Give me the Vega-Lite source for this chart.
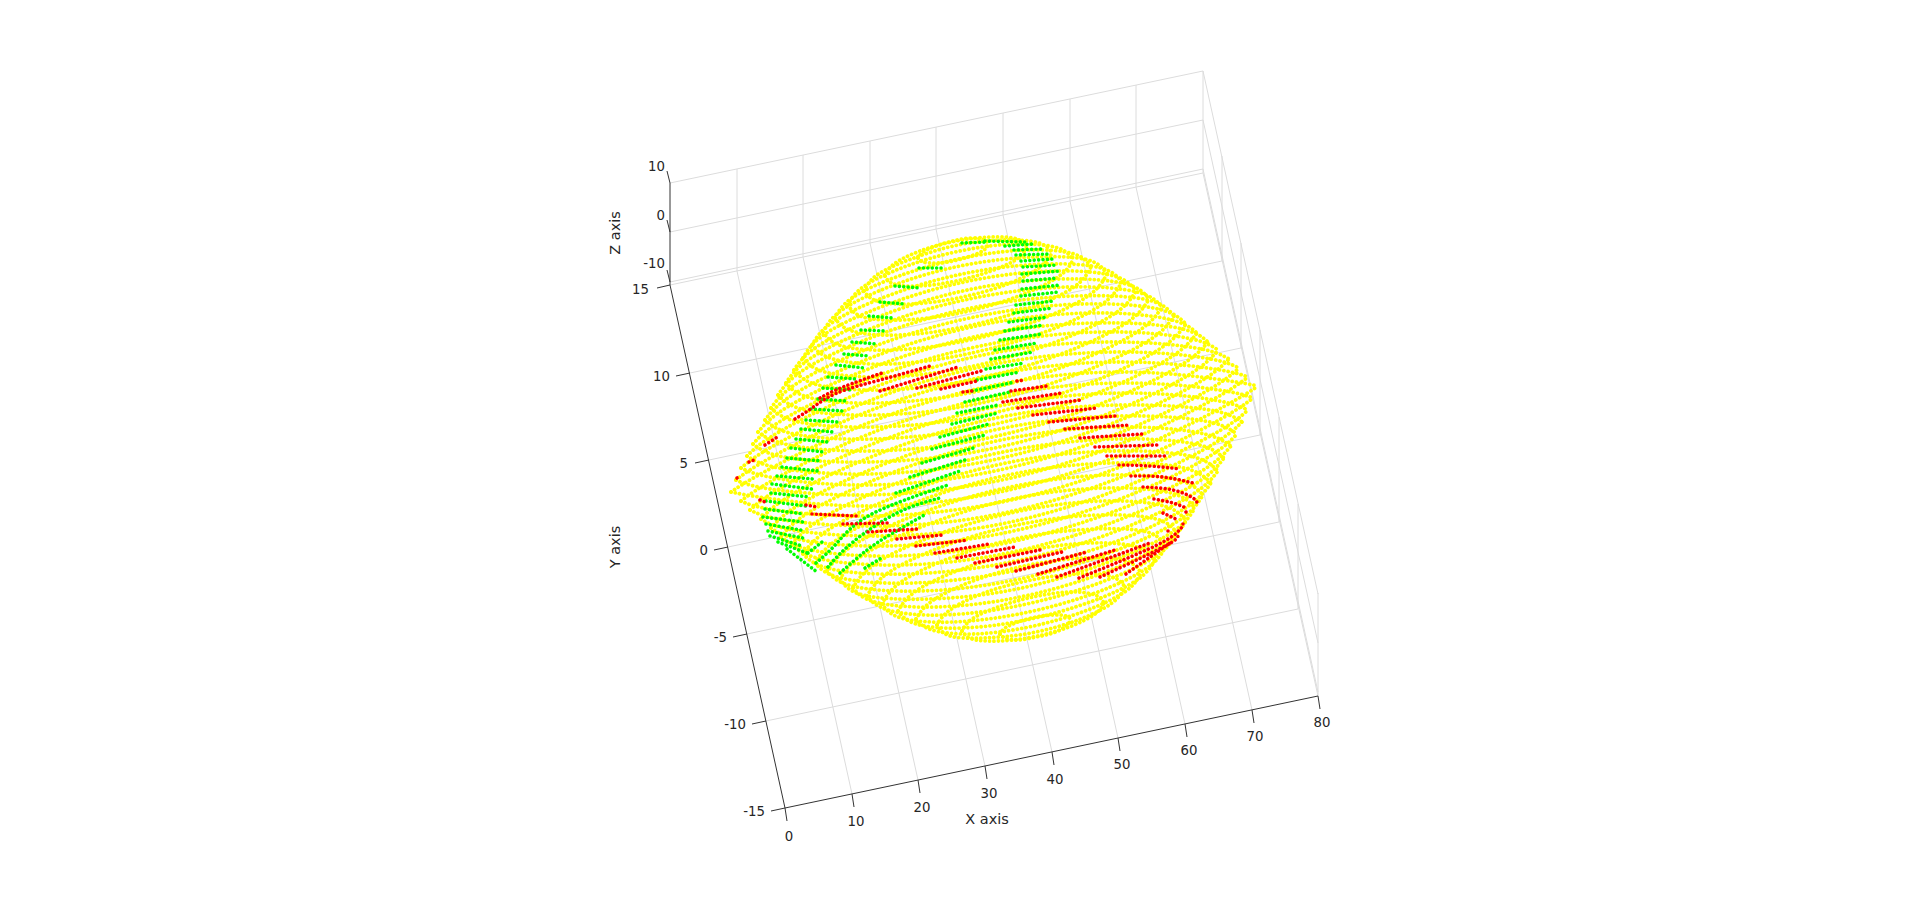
{"$schema":"https://vega.github.io/schema/vega-lite/v6.json","width":1920,"height":909,"autosize":{"type":"fit","contains":"padding"},"padding":0,"background":"white","config":{"view":{"stroke":null}},
"datasets":{
"grid":[
{"k":1,"u":852,"v":794},{"k":1,"u":737,"v":271},{"k":2,"u":918,"v":780},{"k":2,"u":803,"v":257},{"k":3,"u":985,"v":766},{"k":3,"u":870,"v":243},{"k":4,"u":1052,"v":752},{"k":4,"u":936,"v":229},{"k":5,"u":1118,"v":738},{"k":5,"u":1003,"v":215},{"k":6,"u":1185,"v":724},{"k":6,"u":1070,"v":201},{"k":7,"u":1252,"v":710},{"k":7,"u":1136,"v":187},{"k":8,"u":1318,"v":696},{"k":8,"u":1203,"v":173},
{"k":9,"u":670,"v":285},{"k":9,"u":1203,"v":173},{"k":10,"u":690,"v":373},{"k":10,"u":1222,"v":261},{"k":11,"u":709,"v":460},{"k":11,"u":1241,"v":348},{"k":12,"u":728,"v":547},{"k":12,"u":1260,"v":435},{"k":13,"u":747,"v":634},{"k":13,"u":1279,"v":522},{"k":14,"u":766,"v":721},{"k":14,"u":1298,"v":609},
{"k":15,"u":670,"v":183},{"k":15,"u":1203,"v":71},{"k":16,"u":670,"v":232},{"k":16,"u":1203,"v":120},{"k":17,"u":670,"v":282},{"k":17,"u":1203,"v":169},
{"k":18,"u":1203,"v":71},{"k":18,"u":1318,"v":594},{"k":19,"u":1203,"v":120},{"k":19,"u":1318,"v":643},{"k":20,"u":1203,"v":169},{"k":20,"u":1318,"v":692},
{"k":21,"u":737,"v":271},{"k":21,"u":737,"v":169},{"k":22,"u":803,"v":257},{"k":22,"u":803,"v":155},{"k":23,"u":870,"v":243},{"k":23,"u":870,"v":141},{"k":24,"u":936,"v":229},{"k":24,"u":936,"v":127},{"k":25,"u":1003,"v":215},{"k":25,"u":1003,"v":113},{"k":26,"u":1070,"v":201},{"k":26,"u":1070,"v":99},{"k":27,"u":1136,"v":187},{"k":27,"u":1136,"v":85},
{"k":28,"u":1203,"v":173},{"k":28,"u":1203,"v":71},{"k":29,"u":1222,"v":261},{"k":29,"u":1222,"v":156},{"k":30,"u":1241,"v":348},{"k":30,"u":1241,"v":243},{"k":31,"u":1260,"v":435},{"k":31,"u":1260,"v":330},{"k":32,"u":1279,"v":522},{"k":32,"u":1279,"v":417},{"k":33,"u":1298,"v":609},{"k":33,"u":1298,"v":504},{"k":34,"u":1318,"v":696},{"k":34,"u":1318,"v":593}],
"axes":[
{"k":1,"u":785,"v":808},{"k":1,"u":1318,"v":696},{"k":2,"u":785,"v":808},{"k":2,"u":670,"v":285},{"k":3,"u":670,"v":285},{"k":3,"u":670,"v":183},
{"k":4,"u":785,"v":808},{"k":4,"u":787,"v":821},{"k":5,"u":852,"v":794},{"k":5,"u":854,"v":807},{"k":6,"u":918,"v":780},{"k":6,"u":920,"v":793},{"k":7,"u":985,"v":766},{"k":7,"u":987,"v":779},{"k":8,"u":1052,"v":752},{"k":8,"u":1054,"v":765},{"k":9,"u":1118,"v":738},{"k":9,"u":1120,"v":751},{"k":10,"u":1185,"v":724},{"k":10,"u":1187,"v":737},{"k":11,"u":1252,"v":710},{"k":11,"u":1254,"v":723},{"k":12,"u":1318,"v":696},{"k":12,"u":1320,"v":709},
{"k":13,"u":670,"v":285},{"k":13,"u":657,"v":288},{"k":14,"u":690,"v":373},{"k":14,"u":676,"v":376},{"k":15,"u":709,"v":460},{"k":15,"u":695,"v":463},{"k":16,"u":728,"v":547},{"k":16,"u":714,"v":550},{"k":17,"u":747,"v":634},{"k":17,"u":733,"v":637},{"k":18,"u":766,"v":721},{"k":18,"u":752,"v":724},{"k":19,"u":785,"v":808},{"k":19,"u":771,"v":811},
{"k":20,"u":670,"v":183},{"k":20,"u":667,"v":171},{"k":21,"u":670,"v":232},{"k":21,"u":667,"v":220},{"k":22,"u":670,"v":282},{"k":22,"u":667,"v":270}],
"ticksC":[{"u":789,"v":837,"t":"0"},{"u":856,"v":822,"t":"10"},{"u":922,"v":808,"t":"20"},{"u":989,"v":794,"t":"30"},{"u":1055,"v":780,"t":"40"},{"u":1122,"v":765,"t":"50"},{"u":1189,"v":751,"t":"60"},{"u":1255,"v":737,"t":"70"},{"u":1322,"v":723,"t":"80"}],
"ticksR":[{"u":649,"v":290,"t":"15"},{"u":670,"v":377,"t":"10"},{"u":688,"v":464,"t":"5"},{"u":708,"v":551,"t":"0"},{"u":727,"v":638,"t":"-5"},{"u":746,"v":725,"t":"-10"},{"u":765,"v":812,"t":"-15"},{"u":665,"v":167,"t":"10"},{"u":665,"v":216,"t":"0"},{"u":665,"v":264,"t":"-10"}],
"titleX":[{"u":987,"v":820,"t":"X axis"}],
"titleR":[{"u":616,"v":547,"t":"Y axis"},{"u":616,"v":233,"t":"Z axis"}],
"y":[
{"k":1,"u":731,"v":492},{"k":1,"u":766,"v":471},{"k":1,"u":863,"v":425},{"k":1,"u":995,"v":385},{"k":1,"u":1126,"v":372},{"k":1,"u":1223,"v":380},{"k":1,"u":1258,"v":386},
{"k":2,"u":731,"v":492},{"k":2,"u":766,"v":498},{"k":2,"u":863,"v":506},{"k":2,"u":995,"v":493},{"k":2,"u":1126,"v":453},{"k":2,"u":1223,"v":407},{"k":2,"u":1258,"v":386},
{"k":3,"u":736,"v":480},{"k":3,"u":770,"v":458},{"k":3,"u":864,"v":413},{"k":3,"u":992,"v":375},{"k":3,"u":1120,"v":362},{"k":3,"u":1214,"v":369},{"k":3,"u":1248,"v":377},
{"k":4,"u":736,"v":480},{"k":4,"u":770,"v":489},{"k":4,"u":864,"v":495},{"k":4,"u":992,"v":482},{"k":4,"u":1120,"v":444},{"k":4,"u":1214,"v":399},{"k":4,"u":1248,"v":377},
{"k":5,"u":741,"v":501},{"k":5,"u":775,"v":479},{"k":5,"u":869,"v":434},{"k":5,"u":997,"v":396},{"k":5,"u":1125,"v":383},{"k":5,"u":1219,"v":390},{"k":5,"u":1253,"v":398},
{"k":6,"u":741,"v":501},{"k":6,"u":775,"v":510},{"k":6,"u":869,"v":516},{"k":6,"u":997,"v":503},{"k":6,"u":1125,"v":465},{"k":6,"u":1219,"v":420},{"k":6,"u":1253,"v":398},
{"k":7,"u":741,"v":468},{"k":7,"u":775,"v":445},{"k":7,"u":866,"v":402},{"k":7,"u":990,"v":365},{"k":7,"u":1114,"v":352},{"k":7,"u":1205,"v":358},{"k":7,"u":1239,"v":368},
{"k":8,"u":741,"v":468},{"k":8,"u":775,"v":478},{"k":8,"u":866,"v":485},{"k":8,"u":990,"v":472},{"k":8,"u":1114,"v":435},{"k":8,"u":1205,"v":392},{"k":8,"u":1239,"v":368},
{"k":9,"u":750,"v":510},{"k":9,"u":784,"v":486},{"k":9,"u":875,"v":443},{"k":9,"u":999,"v":406},{"k":9,"u":1124,"v":393},{"k":9,"u":1214,"v":400},{"k":9,"u":1248,"v":410},
{"k":10,"u":750,"v":510},{"k":10,"u":784,"v":520},{"k":10,"u":875,"v":526},{"k":10,"u":999,"v":514},{"k":10,"u":1124,"v":476},{"k":10,"u":1214,"v":434},{"k":10,"u":1248,"v":410},
{"k":11,"u":747,"v":456},{"k":11,"u":779,"v":432},{"k":11,"u":867,"v":390},{"k":11,"u":988,"v":354},{"k":11,"u":1108,"v":342},{"k":11,"u":1196,"v":348},{"k":11,"u":1229,"v":359},
{"k":12,"u":747,"v":456},{"k":12,"u":779,"v":468},{"k":12,"u":867,"v":474},{"k":12,"u":988,"v":461},{"k":12,"u":1108,"v":425},{"k":12,"u":1196,"v":384},{"k":12,"u":1229,"v":359},
{"k":13,"u":761,"v":519},{"k":13,"u":793,"v":494},{"k":13,"u":881,"v":453},{"k":13,"u":1001,"v":417},{"k":13,"u":1122,"v":405},{"k":13,"u":1210,"v":410},{"k":13,"u":1242,"v":422},
{"k":14,"u":761,"v":519},{"k":14,"u":793,"v":530},{"k":14,"u":881,"v":536},{"k":14,"u":1001,"v":524},{"k":14,"u":1122,"v":488},{"k":14,"u":1210,"v":446},{"k":14,"u":1242,"v":422},
{"k":15,"u":753,"v":444},{"k":15,"u":784,"v":419},{"k":15,"u":869,"v":379},{"k":15,"u":985,"v":345},{"k":15,"u":1102,"v":332},{"k":15,"u":1187,"v":338},{"k":15,"u":1218,"v":350},
{"k":16,"u":753,"v":444},{"k":16,"u":784,"v":457},{"k":16,"u":869,"v":462},{"k":16,"u":985,"v":450},{"k":16,"u":1102,"v":416},{"k":16,"u":1187,"v":376},{"k":16,"u":1218,"v":350},
{"k":17,"u":771,"v":528},{"k":17,"u":802,"v":503},{"k":17,"u":887,"v":463},{"k":17,"u":1004,"v":428},{"k":17,"u":1120,"v":416},{"k":17,"u":1205,"v":421},{"k":17,"u":1237,"v":434},
{"k":18,"u":771,"v":528},{"k":18,"u":802,"v":540},{"k":18,"u":887,"v":546},{"k":18,"u":1004,"v":533},{"k":18,"u":1120,"v":499},{"k":18,"u":1205,"v":459},{"k":18,"u":1237,"v":434},
{"k":19,"u":758,"v":432},{"k":19,"u":789,"v":406},{"k":19,"u":871,"v":368},{"k":19,"u":983,"v":335},{"k":19,"u":1095,"v":323},{"k":19,"u":1178,"v":328},{"k":19,"u":1208,"v":342},
{"k":20,"u":758,"v":432},{"k":20,"u":789,"v":445},{"k":20,"u":871,"v":451},{"k":20,"u":983,"v":439},{"k":20,"u":1095,"v":406},{"k":20,"u":1178,"v":367},{"k":20,"u":1208,"v":342},
{"k":21,"u":781,"v":537},{"k":21,"u":811,"v":511},{"k":21,"u":894,"v":472},{"k":21,"u":1006,"v":439},{"k":21,"u":1118,"v":427},{"k":21,"u":1200,"v":433},{"k":21,"u":1231,"v":446},
{"k":22,"u":781,"v":537},{"k":22,"u":811,"v":550},{"k":22,"u":894,"v":556},{"k":22,"u":1006,"v":543},{"k":22,"u":1118,"v":510},{"k":22,"u":1200,"v":472},{"k":22,"u":1231,"v":446},
{"k":23,"u":765,"v":420},{"k":23,"u":794,"v":394},{"k":23,"u":873,"v":357},{"k":23,"u":981,"v":325},{"k":23,"u":1089,"v":313},{"k":23,"u":1168,"v":319},{"k":23,"u":1197,"v":333},
{"k":24,"u":765,"v":420},{"k":24,"u":794,"v":434},{"k":24,"u":873,"v":439},{"k":24,"u":981,"v":427},{"k":24,"u":1089,"v":396},{"k":24,"u":1168,"v":359},{"k":24,"u":1197,"v":333},
{"k":25,"u":792,"v":545},{"k":25,"u":821,"v":519},{"k":25,"u":900,"v":482},{"k":25,"u":1008,"v":451},{"k":25,"u":1116,"v":439},{"k":25,"u":1195,"v":444},{"k":25,"u":1224,"v":458},
{"k":26,"u":792,"v":545},{"k":26,"u":821,"v":559},{"k":26,"u":900,"v":565},{"k":26,"u":1008,"v":553},{"k":26,"u":1116,"v":521},{"k":26,"u":1195,"v":484},{"k":26,"u":1224,"v":458},
{"k":27,"u":771,"v":408},{"k":27,"u":799,"v":382},{"k":27,"u":875,"v":346},{"k":27,"u":979,"v":316},{"k":27,"u":1082,"v":304},{"k":27,"u":1158,"v":309},{"k":27,"u":1186,"v":324},
{"k":28,"u":771,"v":408},{"k":28,"u":799,"v":422},{"k":28,"u":875,"v":427},{"k":28,"u":979,"v":416},{"k":28,"u":1082,"v":386},{"k":28,"u":1158,"v":350},{"k":28,"u":1186,"v":324},
{"k":29,"u":803,"v":554},{"k":29,"u":831,"v":528},{"k":29,"u":907,"v":492},{"k":29,"u":1011,"v":462},{"k":29,"u":1114,"v":451},{"k":29,"u":1190,"v":456},{"k":29,"u":1218,"v":471},
{"k":30,"u":803,"v":554},{"k":30,"u":831,"v":569},{"k":30,"u":907,"v":574},{"k":30,"u":1011,"v":562},{"k":30,"u":1114,"v":532},{"k":30,"u":1190,"v":496},{"k":30,"u":1218,"v":471},
{"k":31,"u":778,"v":395},{"k":31,"u":805,"v":369},{"k":31,"u":878,"v":335},{"k":31,"u":976,"v":307},{"k":31,"u":1075,"v":296},{"k":31,"u":1148,"v":300},{"k":31,"u":1174,"v":316},
{"k":32,"u":778,"v":395},{"k":32,"u":805,"v":410},{"k":32,"u":878,"v":415},{"k":32,"u":976,"v":404},{"k":32,"u":1075,"v":375},{"k":32,"u":1148,"v":341},{"k":32,"u":1174,"v":316},
{"k":33,"u":815,"v":563},{"k":33,"u":841,"v":537},{"k":33,"u":914,"v":503},{"k":33,"u":1013,"v":474},{"k":33,"u":1112,"v":463},{"k":33,"u":1184,"v":468},{"k":33,"u":1211,"v":483},
{"k":34,"u":815,"v":563},{"k":34,"u":841,"v":578},{"k":34,"u":914,"v":583},{"k":34,"u":1013,"v":571},{"k":34,"u":1112,"v":543},{"k":34,"u":1184,"v":509},{"k":34,"u":1211,"v":483},
{"k":35,"u":786,"v":383},{"k":35,"u":811,"v":358},{"k":35,"u":880,"v":325},{"k":35,"u":974,"v":298},{"k":35,"u":1068,"v":287},{"k":35,"u":1137,"v":292},{"k":35,"u":1162,"v":307},
{"k":36,"u":786,"v":383},{"k":36,"u":811,"v":398},{"k":36,"u":880,"v":403},{"k":36,"u":974,"v":392},{"k":36,"u":1068,"v":365},{"k":36,"u":1137,"v":332},{"k":36,"u":1162,"v":307},
{"k":37,"u":827,"v":571},{"k":37,"u":852,"v":546},{"k":37,"u":921,"v":513},{"k":37,"u":1015,"v":486},{"k":37,"u":1109,"v":475},{"k":37,"u":1178,"v":480},{"k":37,"u":1203,"v":495},
{"k":38,"u":827,"v":571},{"k":38,"u":852,"v":586},{"k":38,"u":921,"v":591},{"k":38,"u":1015,"v":580},{"k":38,"u":1109,"v":553},{"k":38,"u":1178,"v":521},{"k":38,"u":1203,"v":495},
{"k":39,"u":794,"v":370},{"k":39,"u":818,"v":346},{"k":39,"u":883,"v":315},{"k":39,"u":972,"v":289},{"k":39,"u":1061,"v":279},{"k":39,"u":1126,"v":284},{"k":39,"u":1149,"v":299},
{"k":40,"u":794,"v":370},{"k":40,"u":818,"v":385},{"k":40,"u":883,"v":390},{"k":40,"u":972,"v":380},{"k":40,"u":1061,"v":354},{"k":40,"u":1126,"v":323},{"k":40,"u":1149,"v":299},
{"k":41,"u":840,"v":579},{"k":41,"u":863,"v":555},{"k":41,"u":929,"v":524},{"k":41,"u":1017,"v":498},{"k":41,"u":1106,"v":488},{"k":41,"u":1171,"v":493},{"k":41,"u":1195,"v":508},
{"k":42,"u":840,"v":579},{"k":42,"u":863,"v":595},{"k":42,"u":929,"v":599},{"k":42,"u":1017,"v":589},{"k":42,"u":1106,"v":563},{"k":42,"u":1171,"v":533},{"k":42,"u":1195,"v":508},
{"k":43,"u":803,"v":358},{"k":43,"u":825,"v":334},{"k":43,"u":886,"v":305},{"k":43,"u":969,"v":281},{"k":43,"u":1053,"v":271},{"k":43,"u":1114,"v":276},{"k":43,"u":1136,"v":291},
{"k":44,"u":803,"v":358},{"k":44,"u":825,"v":372},{"k":44,"u":886,"v":377},{"k":44,"u":969,"v":367},{"k":44,"u":1053,"v":343},{"k":44,"u":1114,"v":314},{"k":44,"u":1136,"v":291},
{"k":45,"u":853,"v":588},{"k":45,"u":875,"v":564},{"k":45,"u":936,"v":535},{"k":45,"u":1020,"v":511},{"k":45,"u":1103,"v":501},{"k":45,"u":1164,"v":506},{"k":45,"u":1186,"v":521},
{"k":46,"u":853,"v":588},{"k":46,"u":875,"v":602},{"k":46,"u":936,"v":607},{"k":46,"u":1020,"v":597},{"k":46,"u":1103,"v":573},{"k":46,"u":1164,"v":544},{"k":46,"u":1186,"v":521},
{"k":47,"u":812,"v":345},{"k":47,"u":833,"v":322},{"k":47,"u":890,"v":295},{"k":47,"u":967,"v":273},{"k":47,"u":1045,"v":264},{"k":47,"u":1101,"v":268},{"k":47,"u":1122,"v":282},
{"k":48,"u":812,"v":345},{"k":48,"u":833,"v":359},{"k":48,"u":890,"v":364},{"k":48,"u":967,"v":354},{"k":48,"u":1045,"v":332},{"k":48,"u":1101,"v":305},{"k":48,"u":1122,"v":282},
{"k":49,"u":867,"v":596},{"k":49,"u":888,"v":573},{"k":49,"u":944,"v":546},{"k":49,"u":1022,"v":524},{"k":49,"u":1099,"v":515},{"k":49,"u":1156,"v":519},{"k":49,"u":1177,"v":533},
{"k":50,"u":867,"v":596},{"k":50,"u":888,"v":610},{"k":50,"u":944,"v":615},{"k":50,"u":1022,"v":605},{"k":50,"u":1099,"v":583},{"k":50,"u":1156,"v":556},{"k":50,"u":1177,"v":533},
{"k":51,"u":823,"v":332},{"k":51,"u":842,"v":310},{"k":51,"u":894,"v":285},{"k":51,"u":965,"v":265},{"k":51,"u":1036,"v":257},{"k":51,"u":1088,"v":260},{"k":51,"u":1107,"v":274},
{"k":52,"u":823,"v":332},{"k":52,"u":842,"v":346},{"k":52,"u":894,"v":350},{"k":52,"u":965,"v":341},{"k":52,"u":1036,"v":321},{"k":52,"u":1088,"v":296},{"k":52,"u":1107,"v":274},
{"k":53,"u":882,"v":604},{"k":53,"u":901,"v":582},{"k":53,"u":953,"v":557},{"k":53,"u":1024,"v":537},{"k":53,"u":1095,"v":529},{"k":53,"u":1147,"v":532},{"k":53,"u":1166,"v":546},
{"k":54,"u":882,"v":604},{"k":54,"u":901,"v":618},{"k":54,"u":953,"v":622},{"k":54,"u":1024,"v":613},{"k":54,"u":1095,"v":593},{"k":54,"u":1147,"v":568},{"k":54,"u":1166,"v":546},
{"k":55,"u":835,"v":318},{"k":55,"u":852,"v":298},{"k":55,"u":899,"v":276},{"k":55,"u":963,"v":258},{"k":55,"u":1027,"v":250},{"k":55,"u":1074,"v":254},{"k":55,"u":1091,"v":267},
{"k":56,"u":835,"v":318},{"k":56,"u":852,"v":331},{"k":56,"u":899,"v":335},{"k":56,"u":963,"v":327},{"k":56,"u":1027,"v":309},{"k":56,"u":1074,"v":287},{"k":56,"u":1091,"v":267},
{"k":57,"u":898,"v":611},{"k":57,"u":916,"v":591},{"k":57,"u":962,"v":569},{"k":57,"u":1026,"v":551},{"k":57,"u":1090,"v":543},{"k":57,"u":1137,"v":547},{"k":57,"u":1155,"v":560},
{"k":58,"u":898,"v":611},{"k":58,"u":916,"v":624},{"k":58,"u":962,"v":628},{"k":58,"u":1026,"v":620},{"k":58,"u":1090,"v":602},{"k":58,"u":1137,"v":580},{"k":58,"u":1155,"v":560},
{"k":59,"u":848,"v":305},{"k":59,"u":863,"v":287},{"k":59,"u":904,"v":267},{"k":59,"u":960,"v":251},{"k":59,"u":1016,"v":244},{"k":59,"u":1058,"v":248},{"k":59,"u":1073,"v":260},
{"k":60,"u":848,"v":305},{"k":60,"u":863,"v":317},{"k":60,"u":904,"v":320},{"k":60,"u":960,"v":313},{"k":60,"u":1016,"v":297},{"k":60,"u":1058,"v":277},{"k":60,"u":1073,"v":260},
{"k":61,"u":916,"v":619},{"k":61,"u":932,"v":601},{"k":61,"u":973,"v":581},{"k":61,"u":1029,"v":565},{"k":61,"u":1085,"v":558},{"k":61,"u":1126,"v":561},{"k":61,"u":1141,"v":573},
{"k":62,"u":916,"v":619},{"k":62,"u":932,"v":630},{"k":62,"u":973,"v":634},{"k":62,"u":1029,"v":627},{"k":62,"u":1085,"v":611},{"k":62,"u":1126,"v":591},{"k":62,"u":1141,"v":573},
{"k":63,"u":864,"v":291},{"k":63,"u":877,"v":275},{"k":63,"u":911,"v":259},{"k":63,"u":958,"v":245},{"k":63,"u":1005,"v":240},{"k":63,"u":1039,"v":243},{"k":63,"u":1052,"v":253},
{"k":64,"u":864,"v":291},{"k":64,"u":877,"v":301},{"k":64,"u":911,"v":304},{"k":64,"u":958,"v":298},{"k":64,"u":1005,"v":285},{"k":64,"u":1039,"v":268},{"k":64,"u":1052,"v":253},
{"k":65,"u":937,"v":625},{"k":65,"u":950,"v":610},{"k":65,"u":984,"v":593},{"k":65,"u":1031,"v":580},{"k":65,"u":1078,"v":574},{"k":65,"u":1112,"v":577},{"k":65,"u":1125,"v":587},
{"k":66,"u":937,"v":625},{"k":66,"u":950,"v":636},{"k":66,"u":984,"v":638},{"k":66,"u":1031,"v":633},{"k":66,"u":1078,"v":620},{"k":66,"u":1112,"v":603},{"k":66,"u":1125,"v":587},
{"k":67,"u":885,"v":276},{"k":67,"u":894,"v":264},{"k":67,"u":920,"v":251},{"k":67,"u":956,"v":241},{"k":67,"u":991,"v":237},{"k":67,"u":1017,"v":239},{"k":67,"u":1027,"v":247},
{"k":68,"u":885,"v":276},{"k":68,"u":894,"v":284},{"k":68,"u":920,"v":286},{"k":68,"u":956,"v":281},{"k":68,"u":991,"v":271},{"k":68,"u":1017,"v":259},{"k":68,"u":1027,"v":247},
{"k":69,"u":962,"v":631},{"k":69,"u":972,"v":619},{"k":69,"u":998,"v":607},{"k":69,"u":1033,"v":597},{"k":69,"u":1069,"v":592},{"k":69,"u":1095,"v":595},{"k":69,"u":1104,"v":603},
{"k":70,"u":962,"v":631},{"k":70,"u":972,"v":639},{"k":70,"u":998,"v":641},{"k":70,"u":1033,"v":637},{"k":70,"u":1069,"v":627},{"k":70,"u":1095,"v":614},{"k":70,"u":1104,"v":603},
{"k":71,"u":918,"v":258},{"k":71,"u":923,"v":252},{"k":71,"u":936,"v":246},{"k":71,"u":953,"v":241},{"k":71,"u":971,"v":238},{"k":71,"u":984,"v":240},{"k":71,"u":989,"v":244},
{"k":72,"u":918,"v":258},{"k":72,"u":923,"v":262},{"k":72,"u":936,"v":263},{"k":72,"u":953,"v":261},{"k":72,"u":971,"v":256},{"k":72,"u":984,"v":250},{"k":72,"u":989,"v":244},
{"k":73,"u":1000,"v":634},{"k":73,"u":1005,"v":628},{"k":73,"u":1018,"v":622},{"k":73,"u":1036,"v":617},{"k":73,"u":1053,"v":615},{"k":73,"u":1066,"v":616},{"k":73,"u":1071,"v":620},
{"k":74,"u":1000,"v":634},{"k":74,"u":1005,"v":638},{"k":74,"u":1018,"v":640},{"k":74,"u":1036,"v":637},{"k":74,"u":1053,"v":633},{"k":74,"u":1066,"v":626},{"k":74,"u":1071,"v":620}],
"g":[
{"k":1,"u":919,"v":268},{"k":1,"u":942,"v":268},{"k":2,"u":895,"v":286},{"k":2,"u":920,"v":288},{"k":3,"u":880,"v":302},{"k":3,"u":905,"v":304},{"k":4,"u":869,"v":316},{"k":4,"u":893,"v":318},{"k":5,"u":861,"v":330},{"k":5,"u":886,"v":331},{"k":6,"u":852,"v":342},{"k":6,"u":878,"v":344},{"k":7,"u":844,"v":354},{"k":7,"u":870,"v":356},{"k":8,"u":836,"v":365},{"k":8,"u":865,"v":368},{"k":9,"u":828,"v":377},{"k":9,"u":857,"v":379},{"k":10,"u":823,"v":388},{"k":10,"u":852,"v":390},{"k":11,"u":818,"v":399},{"k":11,"u":847,"v":401},{"k":12,"u":811,"v":409},{"k":12,"u":843,"v":411},{"k":13,"u":806,"v":420},{"k":13,"u":838,"v":422},{"k":14,"u":801,"v":429},{"k":14,"u":833,"v":432},{"k":15,"u":796,"v":439},{"k":15,"u":828,"v":442},{"k":16,"u":791,"v":448},{"k":16,"u":824,"v":452},{"k":17,"u":787,"v":458},{"k":17,"u":822,"v":461},{"k":18,"u":782,"v":467},{"k":18,"u":818,"v":471},{"k":19,"u":777,"v":476},{"k":19,"u":813,"v":479},{"k":20,"u":772,"v":484},{"k":20,"u":812,"v":489},{"k":21,"u":771,"v":493},{"k":21,"u":810,"v":497},{"k":22,"u":766,"v":501},{"k":22,"u":806,"v":506},{"k":23,"u":765,"v":509},{"k":23,"u":804,"v":514},{"k":24,"u":763,"v":517},{"k":24,"u":803,"v":522},{"k":25,"u":766,"v":524},{"k":25,"u":801,"v":530},{"k":26,"u":768,"v":531},{"k":26,"u":803,"v":538},{"k":27,"u":770,"v":536},{"k":27,"u":802,"v":546},{"k":28,"u":778,"v":542},{"k":28,"u":807,"v":553},{"k":29,"u":787,"v":549},{"k":29,"u":817,"v":572},
{"k":30,"u":962,"v":243},{"k":30,"u":987,"v":242},{"k":31,"u":985,"v":241},{"k":31,"u":1025,"v":242},{"k":32,"u":1005,"v":246},{"k":32,"u":1033,"v":244},{"k":33,"u":1014,"v":250},{"k":33,"u":1043,"v":249},{"k":34,"u":1016,"v":255},{"k":34,"u":1051,"v":254},{"k":35,"u":1021,"v":261},{"k":35,"u":1053,"v":259},{"k":36,"u":1023,"v":267},{"k":36,"u":1058,"v":265},{"k":37,"u":1022,"v":274},{"k":37,"u":1060,"v":271},{"k":38,"u":1023,"v":281},{"k":38,"u":1058,"v":278},{"k":39,"u":1022,"v":289},{"k":39,"u":1061,"v":285},{"k":40,"u":1021,"v":296},{"k":40,"u":1059,"v":292},{"k":41,"u":1016,"v":305},{"k":41,"u":1054,"v":301},{"k":42,"u":1014,"v":313},{"k":42,"u":1053,"v":308},{"k":43,"u":1009,"v":322},{"k":43,"u":1048,"v":317},{"k":44,"u":1005,"v":331},{"k":44,"u":1043,"v":325},{"k":45,"u":1000,"v":340},{"k":45,"u":1042,"v":334},{"k":46,"u":995,"v":350},{"k":46,"u":1037,"v":343},{"k":47,"u":991,"v":359},{"k":47,"u":1033,"v":352},{"k":48,"u":986,"v":369},{"k":48,"u":1025,"v":363},{"k":49,"u":977,"v":380},{"k":49,"u":1020,"v":372},{"k":50,"u":972,"v":391},{"k":50,"u":1015,"v":382},{"k":51,"u":965,"v":402},{"k":51,"u":1010,"v":392},{"k":52,"u":957,"v":413},{"k":52,"u":998,"v":405},{"k":53,"u":952,"v":424},{"k":53,"u":998,"v":413},
{"k":54,"u":940,"v":437},{"k":54,"u":989,"v":424},{"k":55,"u":932,"v":449},{"k":55,"u":985,"v":435},{"k":56,"u":922,"v":463},{"k":56,"u":977,"v":447},{"k":57,"u":910,"v":477},{"k":57,"u":968,"v":459},{"k":58,"u":896,"v":493},{"k":58,"u":960,"v":471},
{"k":59,"u":816,"v":563},{"k":59,"u":837,"v":543},{"k":59,"u":870,"v":515},{"k":59,"u":948,"v":485},{"k":60,"u":828,"v":567},{"k":60,"u":853,"v":542},{"k":60,"u":897,"v":513},{"k":60,"u":940,"v":498},{"k":61,"u":840,"v":573},{"k":61,"u":867,"v":550},{"k":61,"u":893,"v":533},{"k":61,"u":926,"v":514},{"k":62,"u":865,"v":568},{"k":62,"u":883,"v":557},{"k":63,"u":808,"v":553},{"k":63,"u":822,"v":542}],
"r":[
{"k":1,"u":820,"v":398},{"k":1,"u":843,"v":387},{"k":1,"u":885,"v":372},{"k":2,"u":795,"v":419},{"k":2,"u":812,"v":408},{"k":2,"u":837,"v":393},{"k":2,"u":880,"v":380},{"k":2,"u":930,"v":366},{"k":3,"u":880,"v":391},{"k":3,"u":958,"v":367},{"k":4,"u":917,"v":388},{"k":4,"u":985,"v":370},{"k":5,"u":941,"v":389},{"k":5,"u":977,"v":381},{"k":6,"u":963,"v":392},{"k":6,"u":972,"v":391},{"k":7,"u":1017,"v":381},{"k":7,"u":1025,"v":380},{"k":8,"u":1011,"v":391},{"k":8,"u":1047,"v":386},{"k":9,"u":1003,"v":402},{"k":9,"u":1062,"v":393},{"k":10,"u":1018,"v":408},{"k":10,"u":1081,"v":400},{"k":11,"u":1033,"v":415},{"k":11,"u":1097,"v":408},{"k":12,"u":1049,"v":422},{"k":12,"u":1115,"v":416},{"k":13,"u":1065,"v":429},{"k":13,"u":1130,"v":425},{"k":14,"u":1080,"v":438},{"k":14,"u":1142,"v":434},{"k":15,"u":1095,"v":447},{"k":15,"u":1157,"v":445},{"k":16,"u":1107,"v":456},{"k":16,"u":1168,"v":456},{"k":17,"u":1119,"v":465},{"k":17,"u":1150,"v":466},{"k":17,"u":1180,"v":469},{"k":18,"u":1131,"v":476},{"k":18,"u":1163,"v":477},{"k":18,"u":1193,"v":483},{"k":19,"u":1143,"v":487},{"k":19,"u":1173,"v":490},{"k":19,"u":1193,"v":498},{"k":19,"u":1197,"v":503},{"k":20,"u":1154,"v":499},{"k":20,"u":1173,"v":503},{"k":20,"u":1186,"v":508},{"k":21,"u":1163,"v":513},{"k":21,"u":1178,"v":520},{"k":22,"u":1186,"v":512},{"k":22,"u":1189,"v":513},{"k":23,"u":1183,"v":524},{"k":23,"u":1186,"v":524},{"k":24,"u":1168,"v":531},{"k":24,"u":1170,"v":531},
{"k":25,"u":765,"v":445},{"k":25,"u":779,"v":436},{"k":26,"u":749,"v":462},{"k":26,"u":754,"v":460},{"k":27,"u":737,"v":478},{"k":27,"u":739,"v":477},{"k":28,"u":760,"v":500},{"k":28,"u":765,"v":502},{"k":29,"u":806,"v":505},{"k":29,"u":818,"v":507},{"k":30,"u":812,"v":514},{"k":30,"u":857,"v":516},{"k":31,"u":843,"v":524},{"k":31,"u":888,"v":523},{"k":32,"u":868,"v":532},{"k":32,"u":917,"v":529},{"k":33,"u":897,"v":539},{"k":33,"u":942,"v":535},{"k":34,"u":916,"v":546},{"k":34,"u":968,"v":540},{"k":35,"u":935,"v":553},{"k":35,"u":989,"v":544},{"k":36,"u":957,"v":558},{"k":36,"u":1015,"v":547},{"k":37,"u":975,"v":563},{"k":37,"u":1040,"v":550},{"k":38,"u":997,"v":567},{"k":38,"u":1062,"v":552},{"k":39,"u":1016,"v":571},{"k":39,"u":1087,"v":552},{"k":40,"u":1038,"v":574},{"k":40,"u":1115,"v":550},{"k":41,"u":1057,"v":577},{"k":41,"u":1150,"v":543},{"k":42,"u":1079,"v":578},{"k":42,"u":1157,"v":545},{"k":42,"u":1182,"v":527},{"k":43,"u":1100,"v":577},{"k":43,"u":1167,"v":545},{"k":43,"u":1177,"v":535},{"k":44,"u":1126,"v":574},{"k":44,"u":1170,"v":543}]
},
"encoding":{"x":{"field":"u","type":"quantitative","scale":{"domain":[0,1920],"nice":false,"zero":false},"axis":null},"y":{"field":"v","type":"quantitative","scale":{"domain":[909,0],"nice":false,"zero":false},"axis":null}},
"layer":[
{"data":{"name":"grid"},"mark":{"type":"line","color":"#dcdcdc","strokeWidth":1},"encoding":{"detail":{"field":"k"}}},
{"data":{"name":"axes"},"mark":{"type":"line","color":"#333333","strokeWidth":1},"encoding":{"detail":{"field":"k"}}},
{"data":{"name":"y"},"mark":{"type":"line","color":"#ffff00","strokeWidth":3.8,"strokeCap":"round","strokeDash":[0.01,4.4],"interpolate":"natural"},"encoding":{"detail":{"field":"k"}}},
{"data":{"name":"g"},"mark":{"type":"line","color":"#00ff00","strokeWidth":3.6,"strokeCap":"round","strokeDash":[0.01,4.4],"interpolate":"natural"},"encoding":{"detail":{"field":"k"}}},
{"data":{"name":"r"},"mark":{"type":"line","color":"#ff0000","strokeWidth":3.6,"strokeCap":"round","strokeDash":[0.01,4.4],"interpolate":"natural"},"encoding":{"detail":{"field":"k"}}},
{"data":{"name":"ticksC"},"mark":{"type":"text","font":"DejaVu Sans","fontSize":13.3,"color":"#262626","align":"center","baseline":"middle"},"encoding":{"text":{"field":"t"}}},
{"data":{"name":"ticksR"},"mark":{"type":"text","font":"DejaVu Sans","fontSize":13.3,"color":"#262626","align":"right","baseline":"middle"},"encoding":{"text":{"field":"t"}}},
{"data":{"name":"titleX"},"mark":{"type":"text","font":"DejaVu Sans","fontSize":14.5,"color":"#262626","align":"center","baseline":"middle"},"encoding":{"text":{"field":"t"}}},
{"data":{"name":"titleR"},"mark":{"type":"text","font":"DejaVu Sans","fontSize":14.5,"color":"#262626","align":"center","baseline":"middle","angle":270},"encoding":{"text":{"field":"t"}}}
]}
